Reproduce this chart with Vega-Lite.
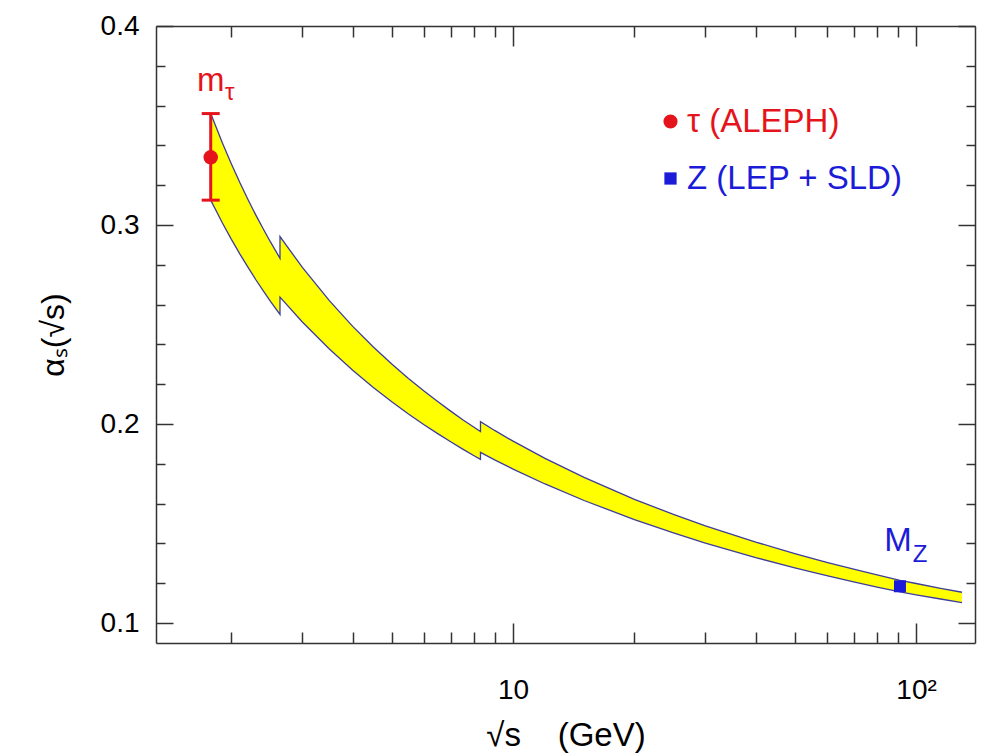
{
  "$schema": "https://vega.github.io/schema/vega-lite/v6.json",
  "width": 819,
  "height": 617,
  "autosize": {"type": "none"},
  "padding": {"left": 156, "top": 26, "right": 13, "bottom": 111},
  "background": "white",
  "config": {"view": {"stroke": null}, "font": "Liberation Sans"},
  "datasets": {
    "band": [
      {"i": 0, "Q": 1.777, "u": 0.356, "l": 0.3125},
      {"i": 1, "Q": 1.9, "u": 0.3412, "l": 0.301},
      {"i": 2, "Q": 2.0, "u": 0.3307, "l": 0.2928},
      {"i": 3, "Q": 2.1, "u": 0.3212, "l": 0.2854},
      {"i": 4, "Q": 2.2, "u": 0.3127, "l": 0.2787},
      {"i": 5, "Q": 2.3, "u": 0.305, "l": 0.2725},
      {"i": 6, "Q": 2.4, "u": 0.298, "l": 0.2669},
      {"i": 7, "Q": 2.5, "u": 0.2915, "l": 0.2617},
      {"i": 8, "Q": 2.64, "u": 0.2833, "l": 0.2551},
      {"i": 9, "Q": 2.64, "u": 0.2942, "l": 0.2638},
      {"i": 10, "Q": 3.0, "u": 0.2787, "l": 0.2513},
      {"i": 11, "Q": 3.5, "u": 0.262, "l": 0.2377},
      {"i": 12, "Q": 4.0, "u": 0.2491, "l": 0.227},
      {"i": 13, "Q": 4.5, "u": 0.2387, "l": 0.2184},
      {"i": 14, "Q": 5.0, "u": 0.2302, "l": 0.2112},
      {"i": 15, "Q": 5.5, "u": 0.2229, "l": 0.2051},
      {"i": 16, "Q": 6.0, "u": 0.2167, "l": 0.1998},
      {"i": 17, "Q": 6.5, "u": 0.2113, "l": 0.1952},
      {"i": 18, "Q": 7.0, "u": 0.2065, "l": 0.1911},
      {"i": 19, "Q": 7.5, "u": 0.2022, "l": 0.1874},
      {"i": 20, "Q": 8.0, "u": 0.1984, "l": 0.1841},
      {"i": 21, "Q": 8.3, "u": 0.1963, "l": 0.1823},
      {"i": 22, "Q": 8.3, "u": 0.2012, "l": 0.1858},
      {"i": 23, "Q": 9.0, "u": 0.1968, "l": 0.182},
      {"i": 24, "Q": 10.0, "u": 0.1914, "l": 0.1774},
      {"i": 25, "Q": 12.0, "u": 0.1828, "l": 0.1699},
      {"i": 26, "Q": 15.0, "u": 0.1732, "l": 0.1616},
      {"i": 27, "Q": 20.0, "u": 0.1622, "l": 0.152},
      {"i": 28, "Q": 25.0, "u": 0.1546, "l": 0.1453},
      {"i": 29, "Q": 30.0, "u": 0.1489, "l": 0.1402},
      {"i": 30, "Q": 40.0, "u": 0.1407, "l": 0.1329},
      {"i": 31, "Q": 50.0, "u": 0.1349, "l": 0.1278},
      {"i": 32, "Q": 60.0, "u": 0.1305, "l": 0.1239},
      {"i": 33, "Q": 70.0, "u": 0.1271, "l": 0.1207},
      {"i": 34, "Q": 80.0, "u": 0.1242, "l": 0.1181},
      {"i": 35, "Q": 91.2, "u": 0.1215, "l": 0.1157},
      {"i": 36, "Q": 100.0, "u": 0.1199, "l": 0.1142},
      {"i": 37, "Q": 115.0, "u": 0.1175, "l": 0.1121},
      {"i": 38, "Q": 130.0, "u": 0.1155, "l": 0.1103}
    ],
    "points": [
      {"series": "τ (ALEPH)", "Q": 1.777, "alpha": 0.334, "lo": 0.3125, "hi": 0.356, "name": "m", "sub": "τ"},
      {"series": "Z (LEP + SLD)", "Q": 91.19, "alpha": 0.1185, "lo": 0.1185, "hi": 0.1185, "name": "M", "sub": "Z"}
    ]
  },
  "resolve": {"axis": {"x": "independent", "y": "independent"}},
  "layer": [
    {
      "data": {"name": "band"},
      "mark": {"type": "area", "orient": "vertical", "fill": "#ffff00", "opacity": 1, "fillOpacity": 1},
      "encoding": {
        "x": {
          "field": "Q", "type": "quantitative",
          "scale": {"type": "log", "domain": [1.3, 140], "nice": false},
          "axis": {
            "orient": "bottom",
            "values": [2, 3, 4, 5, 6, 7, 8, 9, 10, 20, 30, 40, 50, 60, 70, 80, 90, 100],
            "labelExpr": "datum.value == 10 ? '10' : (datum.value == 100 ? '10²' : '')",
            "tickSize": {"condition": {"test": "datum.value == 10 || datum.value == 100", "value": -20}, "value": -11},
            "labelPadding": 53,
            "labelFontSize": 28, "labelFont": "Liberation Sans", "labelColor": "#000",
            "labelOverlap": false, "labelFlush": false,
            "domainColor": "#333", "domainWidth": 1.5, "tickColor": "#333", "tickWidth": 1.5,
            "grid": false,
            "title": "√s\u00a0\u00a0\u00a0\u00a0(GeV)",
            "titleFontSize": 33, "titleFont": "Liberation Sans", "titleFontWeight": "normal", "titleColor": "#000",
            "titlePadding": 6
          }
        },
        "y": {
          "field": "u", "type": "quantitative", "stack": null,
          "scale": {"domain": [0.09, 0.4], "nice": false, "zero": false},
          "axis": {
            "orient": "left",
            "values": [0.1, 0.12, 0.14, 0.16, 0.18, 0.2, 0.22, 0.24, 0.26, 0.28, 0.3, 0.32, 0.34, 0.36, 0.38, 0.4],
            "labelExpr": "abs(datum.value*10 - round(datum.value*10)) < 0.001 ? format(datum.value, '.1f') : ''",
            "tickSize": {"condition": {"test": "abs(datum.value*10 - round(datum.value*10)) < 0.001", "value": -17}, "value": -9},
            "labelPadding": 34,
            "labelFontSize": 28, "labelFont": "Liberation Sans", "labelColor": "#000",
            "labelOverlap": false, "labelFlush": false,
            "domainColor": "#333", "domainWidth": 1.5, "tickColor": "#333", "tickWidth": 1.5,
            "grid": false,
            "title": "αₛ(√s)",
            "titleFontSize": 32, "titleFont": "Liberation Sans", "titleFontWeight": "normal", "titleColor": "#000",
            "titlePadding": 30
          }
        },
        "y2": {"field": "l"}
      }
    },
    {
      "data": {"name": "band"},
      "mark": {"type": "line", "color": "#3d3d9c", "strokeWidth": 1.3},
      "encoding": {
        "x": {
          "field": "Q", "type": "quantitative",
          "scale": {"type": "log", "domain": [1.3, 140], "nice": false},
          "axis": {
            "orient": "top",
            "values": [2, 3, 4, 5, 6, 7, 8, 9, 10, 20, 30, 40, 50, 60, 70, 80, 90, 100],
            "labels": false,
            "tickSize": {"condition": {"test": "datum.value == 10 || datum.value == 100", "value": -20}, "value": -11},
            "domainColor": "#333", "domainWidth": 1.5, "tickColor": "#333", "tickWidth": 1.5,
            "grid": false, "title": null
          }
        },
        "y": {
          "field": "u", "type": "quantitative",
          "scale": {"domain": [0.09, 0.4], "nice": false, "zero": false},
          "axis": {
            "orient": "right",
            "values": [0.1, 0.12, 0.14, 0.16, 0.18, 0.2, 0.22, 0.24, 0.26, 0.28, 0.3, 0.32, 0.34, 0.36, 0.38, 0.4],
            "labels": false,
            "tickSize": {"condition": {"test": "abs(datum.value*10 - round(datum.value*10)) < 0.001", "value": -17}, "value": -9},
            "domainColor": "#333", "domainWidth": 1.5, "tickColor": "#333", "tickWidth": 1.5,
            "grid": false, "title": null
          }
        },
        "order": {"field": "i", "type": "quantitative"}
      }
    },
    {
      "data": {"name": "band"},
      "mark": {"type": "line", "color": "#3d3d9c", "strokeWidth": 1.3},
      "encoding": {
        "x": {"field": "Q", "type": "quantitative", "scale": {"type": "log", "domain": [1.3, 140], "nice": false}, "axis": null},
        "y": {"field": "l", "type": "quantitative", "scale": {"domain": [0.09, 0.4], "nice": false, "zero": false}, "axis": null},
        "order": {"field": "i", "type": "quantitative"}
      }
    },
    {
      "data": {"name": "points"},
      "transform": [{"filter": "datum.name == 'm'"}],
      "mark": {"type": "rule", "color": "#e5141c", "strokeWidth": 3},
      "encoding": {
        "x": {"field": "Q", "type": "quantitative", "scale": {"type": "log", "domain": [1.3, 140], "nice": false}, "axis": null},
        "y": {"field": "lo", "type": "quantitative", "scale": {"domain": [0.09, 0.4], "nice": false, "zero": false}, "axis": null},
        "y2": {"field": "hi"}
      }
    },
    {
      "data": {"name": "points"},
      "transform": [{"filter": "datum.name == 'm'"}],
      "mark": {"type": "tick", "orient": "horizontal", "color": "#e5141c", "size": 18, "thickness": 3, "opacity": 1},
      "encoding": {
        "x": {"field": "Q", "type": "quantitative", "scale": {"type": "log", "domain": [1.3, 140], "nice": false}, "axis": null},
        "y": {"field": "lo", "type": "quantitative", "scale": {"domain": [0.09, 0.4], "nice": false, "zero": false}, "axis": null}
      }
    },
    {
      "data": {"name": "points"},
      "transform": [{"filter": "datum.name == 'm'"}],
      "mark": {"type": "tick", "orient": "horizontal", "color": "#e5141c", "size": 18, "thickness": 3, "opacity": 1},
      "encoding": {
        "x": {"field": "Q", "type": "quantitative", "scale": {"type": "log", "domain": [1.3, 140], "nice": false}, "axis": null},
        "y": {"field": "hi", "type": "quantitative", "scale": {"domain": [0.09, 0.4], "nice": false, "zero": false}, "axis": null}
      }
    },
    {
      "data": {"name": "points"},
      "mark": {"type": "point", "filled": true, "opacity": 1, "strokeWidth": 0},
      "encoding": {
        "x": {"field": "Q", "type": "quantitative", "scale": {"type": "log", "domain": [1.3, 140], "nice": false}, "axis": null},
        "y": {"field": "alpha", "type": "quantitative", "scale": {"domain": [0.09, 0.4], "nice": false, "zero": false}, "axis": null},
        "color": {
          "field": "series", "type": "nominal",
          "scale": {"domain": ["τ (ALEPH)", "Z (LEP + SLD)"], "range": ["#e5141c", "#1c1cd8"]},
          "legend": {
            "orient": "none", "legendX": 498, "legendY": 79, "title": null,
            "labelFontSize": 33, "labelFont": "Liberation Sans", "labelOffset": 0, "labelLimit": 500,
            "rowPadding": 23, "padding": 0, "symbolStrokeWidth": 0, "symbolSize": 200, "symbolOpacity": 1,
            "encode": {
              "labels": {"update": {"fill": {"signal": "datum.value == 'Z (LEP + SLD)' ? '#1c1cd8' : '#e5141c'"}}},
              "symbols": {"update": {"size": {"signal": "datum.value == 'Z (LEP + SLD)' ? 150 : 200"}}}
            }
          }
        },
        "shape": {
          "field": "series", "type": "nominal",
          "scale": {"domain": ["τ (ALEPH)", "Z (LEP + SLD)"], "range": ["circle", "square"]}
        },
        "size": {"condition": {"test": "datum.name == 'M'", "value": 144}, "value": 210}
      }
    },
    {
      "data": {"name": "points"},
      "transform": [{"filter": "datum.name == 'm'"}],
      "mark": {"type": "text", "font": "Liberation Sans", "fontSize": 33, "color": "#e5141c", "align": "center", "baseline": "alphabetic", "dx": 0, "dy": -66},
      "encoding": {
        "x": {"field": "Q", "type": "quantitative", "scale": {"type": "log", "domain": [1.3, 140], "nice": false}, "axis": null},
        "y": {"field": "alpha", "type": "quantitative", "scale": {"domain": [0.09, 0.4], "nice": false, "zero": false}, "axis": null},
        "text": {"field": "name"}
      }
    },
    {
      "data": {"name": "points"},
      "transform": [{"filter": "datum.name == 'm'"}],
      "mark": {"type": "text", "font": "Liberation Sans", "fontSize": 24, "color": "#e5141c", "align": "center", "baseline": "alphabetic", "dx": 19, "dy": -57},
      "encoding": {
        "x": {"field": "Q", "type": "quantitative", "scale": {"type": "log", "domain": [1.3, 140], "nice": false}, "axis": null},
        "y": {"field": "alpha", "type": "quantitative", "scale": {"domain": [0.09, 0.4], "nice": false, "zero": false}, "axis": null},
        "text": {"field": "sub"}
      }
    },
    {
      "data": {"name": "points"},
      "transform": [{"filter": "datum.name == 'M'"}],
      "mark": {"type": "text", "font": "Liberation Sans", "fontSize": 33, "color": "#1c1cd8", "align": "center", "baseline": "alphabetic", "dx": -2, "dy": -35},
      "encoding": {
        "x": {"field": "Q", "type": "quantitative", "scale": {"type": "log", "domain": [1.3, 140], "nice": false}, "axis": null},
        "y": {"field": "alpha", "type": "quantitative", "scale": {"domain": [0.09, 0.4], "nice": false, "zero": false}, "axis": null},
        "text": {"field": "name"}
      }
    },
    {
      "data": {"name": "points"},
      "transform": [{"filter": "datum.name == 'M'"}],
      "mark": {"type": "text", "font": "Liberation Sans", "fontSize": 24, "color": "#1c1cd8", "align": "center", "baseline": "alphabetic", "dx": 20, "dy": -24},
      "encoding": {
        "x": {"field": "Q", "type": "quantitative", "scale": {"type": "log", "domain": [1.3, 140], "nice": false}, "axis": null},
        "y": {"field": "alpha", "type": "quantitative", "scale": {"domain": [0.09, 0.4], "nice": false, "zero": false}, "axis": null},
        "text": {"field": "sub"}
      }
    }
  ]
}
